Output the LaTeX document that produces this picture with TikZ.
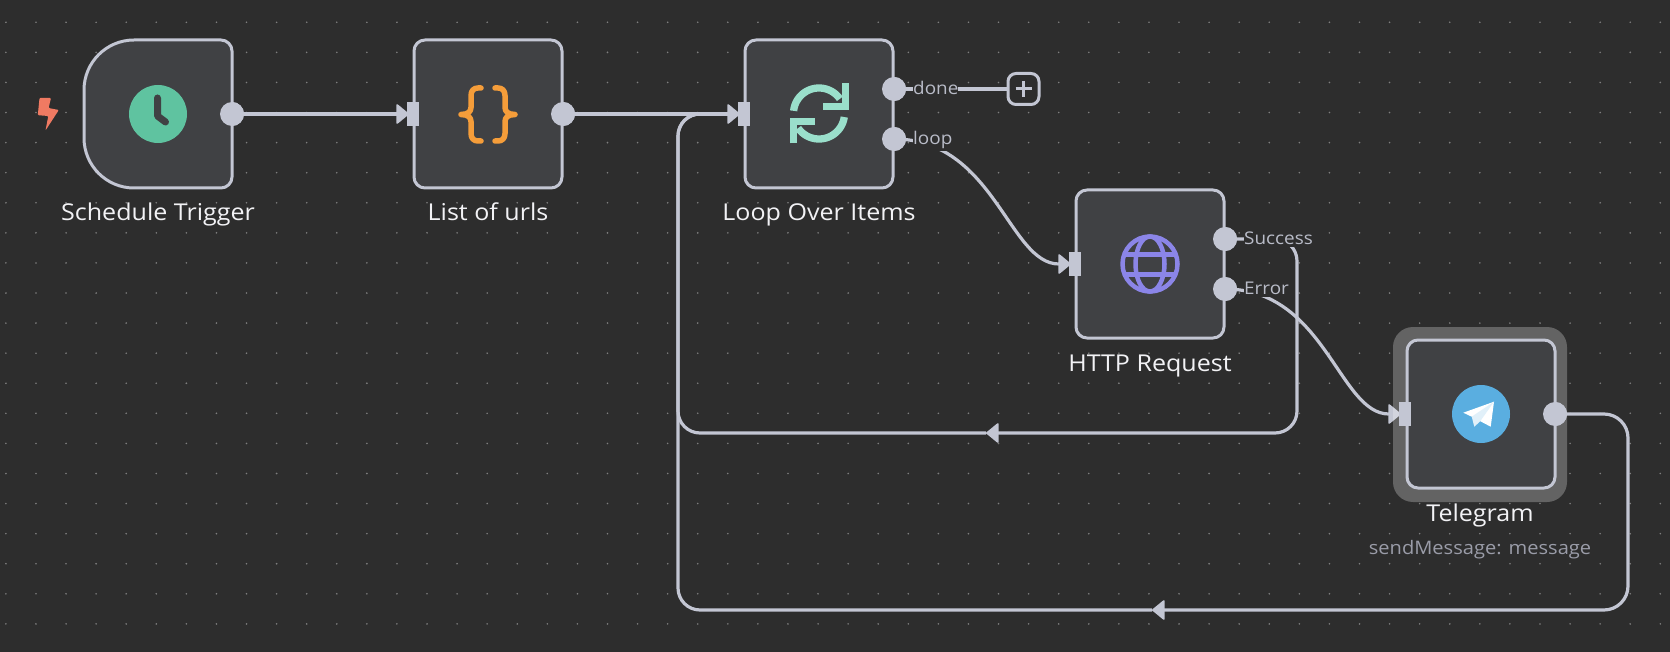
\documentclass[tikz,border=0pt]{standalone}
\usepackage{fontspec}
\setmainfont[FakeStretch=1.08]{Open Sans}
\usetikzlibrary{arrows.meta}
\definecolor{bg}{HTML}{2D2D2D}
\definecolor{griddot}{HTML}{7E7E7E}
\definecolor{nodefill}{HTML}{404144}
\definecolor{wirec}{HTML}{C3C6D3}
\definecolor{titlec}{HTML}{F2F2F5}
\definecolor{portlab}{HTML}{B9BCC8}
\definecolor{subc}{HTML}{9A9CA8}
\definecolor{clockc}{HTML}{5FC3A0}
\definecolor{bracec}{HTML}{F59D3A}
\definecolor{syncc}{HTML}{9ADFCB}
\definecolor{globec}{HTML}{8B85E8}
\definecolor{tgc}{HTML}{5AAEE0}
\definecolor{boltc}{HTML}{F07A62}
\tikzset{
  nodebox/.style={draw=wirec,fill=nodefill,line width=3pt,rounded corners=11pt,minimum width=148pt,minimum height=148pt,inner sep=0pt,outer sep=0pt},
  outport/.style={circle,fill=wirec,minimum size=24pt,inner sep=0pt,outer sep=0pt},
  inport/.style={rectangle,fill=wirec,minimum width=12pt,minimum height=24pt,inner sep=0pt,outer sep=0pt},
  wire/.style={draw=wirec,line width=3.2pt},
  wiretip/.style={-{Triangle[length=13pt,width=21pt,line width=1.5pt,round]}},
  title/.style={text=titlec,font=\fontsize{23.2}{24}\selectfont,anchor=base,inner sep=0pt},
  sublabel/.style={text=subc,font=\fontsize{18.6}{22}\selectfont,anchor=base,inner sep=0pt},
  portlabel/.style={text=portlab,font=\fontsize{17.5}{20}\selectfont,anchor=base west,fill=bg,inner ysep=2pt,inner xsep=0pt},
  addbtn/.style={draw=wirec,fill=bg,line width=3pt,rounded corners=8pt,minimum size=31pt,inner sep=0pt,outer sep=0pt},
}
\begin{document}
\begin{tikzpicture}[x=1pt,y=-1pt]
\useasboundingbox (0,0) rectangle (1670,652);
\fill[bg] (0,0) rectangle (1670,652);
% dot grid
\foreach \i in {0,...,55}{\foreach \j in {0,...,21}{
  \fill[griddot] ({5.9+30.08*\i},{22.3+30.08*\j}) circle (0.9pt);
}}
% node anchors
\node[outport] (st-out) at (232,114) {};
\node[inport] (lu-in) at (413,114) {};
\node[outport] (lu-out) at (563,114) {};
\node[inport] (lo-in) at (744,114) {};
\node[outport] (lo-done) at (894,89) {};
\node[outport] (lo-loop) at (894,139) {};
\node[addbtn] (plus) at (1023.5,89) {};
\node[inport] (ht-in) at (1075,264) {};
\node[outport] (ht-ok) at (1225,239) {};
\node[outport] (ht-err) at (1225,289) {};
\node[inport] (tg-in) at (1405,414) {};
\node[outport] (tg-out) at (1555,414) {};
\coordinate (ok-a) at (1297,239);
\coordinate (ok-b) at (1297,433);
\coordinate (ok-m) at (986,433);
\coordinate (bus-a) at (678,433);
\coordinate (bus-b) at (678,114);
\coordinate (bus-c) at (678,610);
\coordinate (tg-a) at (1628,414);
\coordinate (tg-b) at (1628,610);
\coordinate (tg-m) at (1152,610);
% connectors
\draw[wire,wiretip] (st-out.center) -- ([xshift=2pt]lu-in.west);
\draw[wire,wiretip] (lu-out.center) -- ([xshift=2pt]lo-in.west);
\draw[wire] (lo-done.center) -- (plus.west);
\draw[wire,wiretip] (lo-loop.center) .. controls +(100,0) and +(-62,0) .. ([xshift=2pt]ht-in.west);
\draw[wire,wiretip] (ht-err.center) .. controls +(100,0) and +(-62,0) .. ([xshift=2pt]tg-in.west);
\draw[wire,wiretip,rounded corners=22pt] (ht-ok.center) -- (ok-a) -- (ok-b) -- (ok-m);
\draw[wire,rounded corners=22pt] (ok-m) -- (bus-a) -- (bus-b) -- (lo-in.west);
\draw[wire,wiretip,rounded corners=24pt] (tg-out.center) -- (tg-a) -- (tg-b) -- (tg-m);
\draw[wire,rounded corners=22pt] (tg-m) -- (bus-c) -- (bus-b) -- (lo-in.west);
% Telegram halo
\fill[white,opacity=0.26,rounded corners=20pt] (1393,327) rectangle (1567,502);
% Schedule Trigger body
\draw[draw=wirec,fill=nodefill,line width=3pt]
  (134,40) -- (221,40) .. controls (227,40) and (232,45) .. (232,51)
  -- (232,177) .. controls (232,183) and (227,188) .. (221,188)
  -- (134,188) .. controls (106.4,188) and (84,165.6) .. (84,138)
  -- (84,90) .. controls (84,62.4) and (106.4,40) .. (134,40) -- cycle;
\node[minimum size=148pt,inner sep=0pt] (trigger) at (158,114) {};
% other bodies
\node[nodebox] (list) at (488,114) {};
\node[nodebox] (loop) at (819,114) {};
\node[nodebox] (http) at (1150,264) {};
\node[nodebox] (tele) at (1481,414) {};
% ports on top
\node[outport] at (st-out) {};
\node[inport] at (lu-in) {};
\node[outport] at (lu-out) {};
\node[inport] at (lo-in) {};
\node[outport] at (lo-done) {};
\node[outport] at (lo-loop) {};
\node[inport] at (ht-in) {};
\node[outport] at (ht-ok) {};
\node[outport] at (ht-err) {};
\node[inport] at (tg-in) {};
\node[outport] at (tg-out) {};
% bolt
\fill[boltc,rounded corners=1pt] (39.5,98) -- (51,98) -- (48.6,108) -- (58.8,110) -- (45.5,130.5) -- (48.3,116) -- (37.8,115.2) -- cycle;
% clock icon
\fill[clockc] (trigger.center) circle (29pt);
\draw[nodefill,line width=7pt,line cap=round,line join=round] (157.5,98) -- (157.5,116) -- (165.5,122);
% braces icon
\begin{scope}[shift={(488,114.5)},draw=bracec,line width=5.5pt,line cap=round,line join=round]
\foreach \s in {1,-1}{
\draw (\s*7,-26.5) -- (\s*10,-26.5) .. controls (\s*14,-26.5) and (\s*17,-24) .. (\s*17,-19) -- (\s*17,-7) .. controls (\s*17,-3) and (\s*20,0) .. (\s*27,0) .. controls (\s*20,0) and (\s*17,3) .. (\s*17,7) -- (\s*17,19) .. controls (\s*17,24) and (\s*14,26.5) .. (\s*10,26.5) -- (\s*7,26.5);
}
\end{scope}
% sync icon
\begin{scope}[shift={(819,113.5)},draw=syncc,line width=7.3pt]
\draw plot[domain=174:35,samples=40] ({25.5*cos(\x)},{-25.5*sin(\x)});
\draw plot[domain=-8:-145,samples=40] ({25.5*cos(\x)},{-25.5*sin(\x)});
\draw[line join=miter] (26.5,-30) -- (26.5,-7) -- (3.7,-7);
\draw[line join=miter] (-25.7,30) -- (-25.7,7.7) -- (-4,7.7);
\end{scope}
% globe icon
\begin{scope}[shift={(1150,264)},draw=globec,line width=4.5pt]
\draw (0,0) circle (27.5pt);
\draw (0,0) ellipse [x radius=14.5,y radius=27.5];
\draw (-25.8,-9.5) -- (25.8,-9.5);
\draw (-25.8,10.5) -- (25.8,10.5);
\end{scope}
% telegram icon
\fill[tgc] (tele.center) circle (29pt);
\fill[white] (1494,401.7) -- (1463.3,412.7) -- (1471.7,416.7) -- (1490.7,426.7) -- cycle;
\fill[white!82!tgc] (1471.7,416.7) -- (1474.3,426.7) -- (1480,421.5) -- (1494,401.7) -- cycle;
% plus
\draw[wirec,line width=3pt] (1015.5,89) -- (1031.5,89) (1023.5,81) -- (1023.5,97);
% port labels
\node[portlabel] (lab-done) at (913,94.3) {done};
\node[portlabel] (lab-loop) at (913,144.3) {loop};
\node[portlabel] (lab-ok) at (1244,244.5) {Success};
\node[portlabel] (lab-err) at (1244,294.7) {Error};
% titles
\node[title] (t-st) at (158,221) {Schedule Trigger};
\node[title] (t-lu) at (488,221) {List of urls};
\node[title] (t-lo) at (819,221) {Loop Over Items};
\node[title] (t-ht) at (1150,371.5) {HTTP Request};
\node[title] (t-tg) at (1480,521.7) {Telegram};
\node[sublabel] (t-sub) at (1480,554) {sendMessage: message};
\end{tikzpicture}
\end{document}
